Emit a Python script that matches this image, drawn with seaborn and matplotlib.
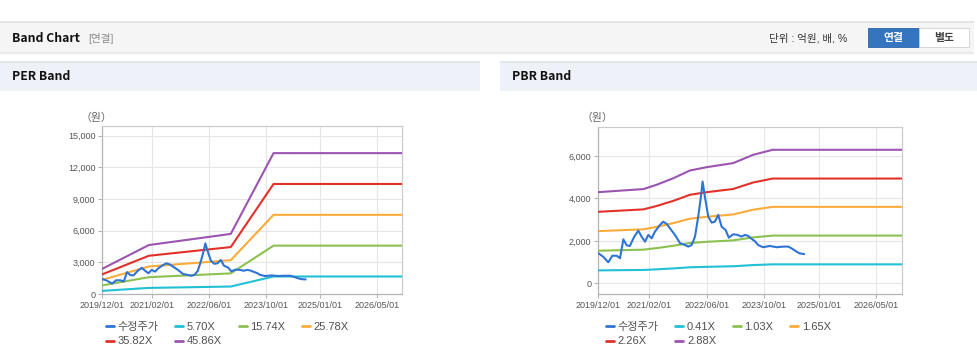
import matplotlib
matplotlib.use("Agg")
import matplotlib.pyplot as plt
from matplotlib.patches import Rectangle
from matplotlib.lines import Line2D
import pandas as pd
import seaborn as sns

# ---------------- data ----------------
price_label = "수정주가"
price_dates = ["2019-12-01", "2020-01-12", "2020-02-23", "2020-03-28", "2020-05-04", "2020-06-01",
               "2020-06-29", "2020-07-27", "2020-08-23", "2020-09-29", "2020-11-02", "2020-11-30",
               "2020-12-29", "2021-01-25", "2021-02-23", "2021-03-22", "2021-05-04", "2021-05-31",
               "2021-06-29", "2021-07-27", "2021-09-07", "2021-10-20", "2021-11-16", "2021-12-28",
               "2022-01-25", "2022-02-23", "2022-03-22", "2022-04-14", "2022-04-28", "2022-05-17",
               "2022-06-15", "2022-07-13", "2022-08-09", "2022-09-07", "2022-10-05", "2022-11-08",
               "2022-12-05", "2023-01-11", "2023-02-17", "2023-03-22", "2023-04-20", "2023-05-17",
               "2023-06-28", "2023-07-12", "2023-08-10", "2023-09-20", "2023-11-16", "2024-01-11",
               "2024-03-07", "2024-04-18", "2024-05-16", "2024-06-28", "2024-07-25", "2024-08-31"]
price_values = [1420, 1250, 990, 1300, 1300, 1180,
                2070, 1790, 1760, 2200, 2480, 2200,
                1960, 2280, 2120, 2430, 2750, 2900,
                2800, 2590, 2280, 1890, 1840, 1730,
                1800, 2200, 3140, 4080, 4790, 4080,
                3140, 2860, 2900, 3220, 2670, 2510,
                2150, 2310, 2280, 2200, 2280, 2230,
                2040, 1990, 1800, 1700, 1760, 1700,
                1730, 1730, 1650, 1490, 1410, 1380]

per_dates = ["2019-12-01", "2021-01-01", "2022-12-01", "2023-12-01", "2026-12-01"]
per_labels = ["5.70X", "15.74X", "25.78X", "35.82X", "45.86X"]
per_570 = [296, 576, 707, 1657, 1657]
per_1574 = [818, 1590, 1952, 4576, 4576]
per_2578 = [1341, 2604, 3197, 7494, 7494]
per_3582 = [1863, 3618, 4442, 10413, 10413]
per_4586 = [2385, 4632, 5687, 13332, 13332]

pbr_dates = ["2019-12-01", "2020-12-15", "2021-04-05", "2021-08-25", "2022-01-10",
             "2022-06-01", "2023-01-10", "2023-06-28", "2023-12-10", "2026-12-01"]
pbr_labels = ["0.41X", "1.03X", "1.65X", "2.26X", "2.88X"]
pbr_041 = [611, 631, 660, 704, 756, 778, 805, 861, 895, 895]
pbr_103 = [1535, 1586, 1658, 1770, 1898, 1955, 2023, 2163, 2247, 2247]
pbr_165 = [2459, 2541, 2657, 2835, 3041, 3132, 3241, 3465, 3600, 3600]
pbr_226 = [3367, 3480, 3639, 3883, 4165, 4289, 4439, 4746, 4931, 4931]
pbr_288 = [4291, 4435, 4637, 4948, 5308, 5466, 5656, 6048, 6284, 6284]

x_tick_dates = ["2019-12-01", "2021-02-01", "2022-06-01", "2023-10-01", "2025-01-01", "2026-05-01"]
x_tick_labels = ["2019/12/01", "2021/02/01", "2022/06/01", "2023/10/01", "2025/01/01", "2026/05/01"]
per_yticks = [0, 3000, 6000, 9000, 12000, 15000]
pbr_yticks = [0, 2000, 4000, 6000]

line_colors = ["#2f74d4", "#21c0d4", "#8cc152", "#fbab3a", "#e2312a", "#9b55b1"]

# ---------------- style ----------------
sns.set_theme(style="white")
plt.rcParams["font.family"] = ["Liberation Sans", "Noto Sans CJK KR", "DejaVu Sans"]

W, H = 978, 361
fig = plt.figure(figsize=(W / 100, H / 100), dpi=100)
fig.patch.set_facecolor("white")


def rect(x, y, w, h, **kw):
    fig.patches.append(Rectangle((x / W, 1 - (y + h) / H), w / W, h / H,
                                 transform=fig.transFigure, **kw))


def ftext(x, y, s, **kw):
    fig.text(x / W, 1 - y / H, s, **kw)


# top bar
for i, a in enumerate([0.10, 0.06, 0.03]):
    rect(0, 52 + i, 974, 1, facecolor="black", alpha=a, edgecolor="none", lw=0)
rect(0, 22, 974, 30, facecolor="#f5f5f5", edgecolor="none")
rect(0, 21, 974, 1.5, facecolor="#e4e4e4", edgecolor="none")
ftext(12, 38, "Band Chart", fontsize=8.8, fontweight="bold", color="#111111",
      va="center", family=["Noto Sans CJK KR"])
ftext(88, 38.5, "[연결]", fontsize=7.6, color="#8a8a8a", va="center")
ftext(769, 38, "단위 : 억원, 배, %", fontsize=7.6, color="#333333", va="center")
rect(868, 28, 51, 19, facecolor="#3574bf", edgecolor="#2d66a8", lw=0.6)
rect(919, 28, 50, 19, facecolor="white", edgecolor="#cfcfcf", lw=0.6)
ftext(893.5, 37.8, "연결", fontsize=7.8, fontweight="bold", color="white",
      ha="center", va="center", family=["Noto Sans CJK KR"])
ftext(944, 37.8, "별도", fontsize=7.8, fontweight="bold", color="#444444",
      ha="center", va="center", family=["Noto Sans CJK KR"])

# panel headers
rect(0, 62, 480, 29, facecolor="#eef2f8", edgecolor="none")
rect(0, 61, 480, 2, facecolor="#e1e5eb", edgecolor="none")
rect(500, 62, 478, 29, facecolor="#eef2f8", edgecolor="none")
rect(500, 61, 478, 2, facecolor="#e1e5eb", edgecolor="none")
ftext(12, 77, "PER Band", fontsize=8.8, fontweight="bold", color="#111111",
      va="center", family=["Noto Sans CJK KR"])
ftext(512, 77, "PBR Band", fontsize=8.8, fontweight="bold", color="#111111",
      va="center", family=["Noto Sans CJK KR"])


def build_frame(band_dates, band_labels, band_series):
    rows = []
    for lab, vals in zip(band_labels, band_series):
        for d, v in zip(band_dates, vals):
            rows.append((pd.Timestamp(d), v, lab))
    for d, v in zip(price_dates, price_values):
        rows.append((pd.Timestamp(d), v, price_label))
    return pd.DataFrame(rows, columns=["date", "value", "series"])


def draw_panel(rect_px, band_dates, band_labels, band_series, ylim, yticks, legend_x, unit_x):
    l, t, r, b = rect_px
    ax = fig.add_axes([l / W, 1 - b / H, (r - l) / W, (b - t) / H])
    df = build_frame(band_dates, band_labels, band_series)
    order = [price_label] + band_labels
    pal = dict(zip(order, line_colors))
    # bands first, price on top
    sns.lineplot(data=df[df.series != price_label], x="date", y="value", hue="series",
                 hue_order=band_labels, palette=pal, estimator=None, sort=False,
                 linewidth=1.5, legend=False, ax=ax, zorder=3)
    sns.lineplot(data=df[df.series == price_label], x="date", y="value", hue="series",
                 palette=pal, estimator=None, sort=False,
                 linewidth=1.5, legend=False, ax=ax, zorder=4)
    ax.set_xlim(pd.Timestamp("2019-12-01"), pd.Timestamp("2026-12-01"))
    ax.set_ylim(*ylim)
    ax.set_xticks([pd.Timestamp(d) for d in x_tick_dates])
    ax.set_xticklabels(x_tick_labels)
    ax.set_yticks(yticks)
    ax.set_yticklabels([f"{v:,}" for v in yticks])
    ax.set_xlabel("")
    ax.set_ylabel("")
    ax.grid(True, color="#e6e6e6", linewidth=0.8)
    ax.set_axisbelow(True)
    for s in ax.spines.values():
        s.set_color("#cccccc")
        s.set_linewidth(0.9)
    ax.spines["left"].set_color("#b5b5b5")
    ax.spines["bottom"].set_color("#b5b5b5")
    ax.tick_params(axis="both", which="both", length=3, width=0.8, color="#b5b5b5",
                   labelsize=6.5, labelcolor="#555555", pad=2,
                   bottom=True, left=True)
    ax.set_facecolor("white")
    ftext(unit_x, 117.5, "（원）", fontsize=7.8, color="#666666", ha="center", va="center",
          family=["Noto Sans CJK KR"])

    handles = [Line2D([], [], color=pal[k], lw=2) for k in order]
    idx = [0, 4, 1, 5, 2, 3]
    leg = ax.legend([handles[i] for i in idx], [order[i] for i in idx], ncol=4,
                    loc="upper left", bbox_to_anchor=(legend_x / W, 1 - 322 / H),
                    bbox_transform=fig.transFigure, frameon=False, fontsize=8,
                    handlelength=0.7, handletextpad=0.35, columnspacing=1.5,
                    labelspacing=0.4, borderpad=0, borderaxespad=0)
    for tx in leg.get_texts():
        tx.set_color("#505050")
    return ax


draw_panel((102.3, 126, 402, 294), per_dates, per_labels,
           [per_570, per_1574, per_2578, per_3582, per_4586],
           (0, 15900), per_yticks, 106, 96)
draw_panel((598.3, 126.7, 901.7, 294), pbr_dates, pbr_labels,
           [pbr_041, pbr_103, pbr_165, pbr_226, pbr_288],
           (-500, 7370), pbr_yticks, 606, 597)

fig.savefig("out.png", dpi=100, facecolor="white")
